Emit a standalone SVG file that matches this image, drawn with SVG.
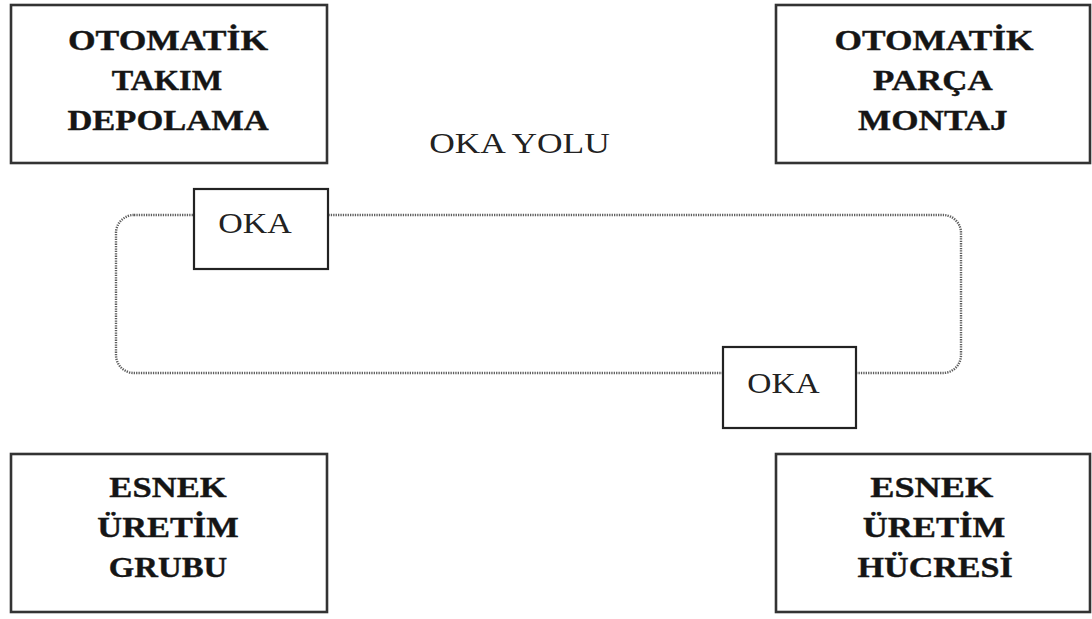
<svg xmlns="http://www.w3.org/2000/svg" width="1092" height="619" viewBox="0 0 1092 619">
  <style>
    .box { fill: #fff; stroke: #333; stroke-width: 2.6; }
    .small { fill: #fff; stroke: #222; stroke-width: 2.2; }
    .big { font-family: "Liberation Serif", "Times New Roman", serif; font-weight: bold; font-size: 30px; fill: #151515; stroke: #151515; stroke-width: 0.4; text-anchor: middle; }
    .lbl { font-family: "Liberation Serif", "Times New Roman", serif; font-size: 30px; fill: #222; text-anchor: middle; }
    .track { fill: none; stroke: #5e5e5e; stroke-width: 2.4; stroke-dasharray: 1.3 1.1; }
  </style>

  <!-- vehicle track loop -->
  <g id="connectors">
    <rect class="track" x="116" y="215" width="845" height="158" rx="18" ry="18"/>
  </g>

  <!-- text is drawn slightly widened: translate to the centre, then scale x -->
  <g id="track-label" transform="translate(519.5 0) scale(1.15 1)">
    <text class="lbl" x="0" y="153" textLength="157" lengthAdjust="spacingAndGlyphs">OKA YOLU</text>
  </g>

  <g id="tool-storage">
    <rect class="box" x="11" y="5" width="316" height="158"/>
    <g transform="translate(168 0) scale(1.15 1)">
      <text class="big" x="0" y="50" textLength="174" lengthAdjust="spacingAndGlyphs">OTOMATİK</text>
      <text class="big" x="-1" y="90" textLength="96" lengthAdjust="spacingAndGlyphs">TAKIM</text>
      <text class="big" x="0" y="130" textLength="175" lengthAdjust="spacingAndGlyphs">DEPOLAMA</text>
    </g>
  </g>

  <g id="part-assembly">
    <rect class="box" x="776" y="5" width="314" height="158"/>
    <g transform="translate(934 0) scale(1.15 1)">
      <text class="big" x="0" y="50" textLength="173" lengthAdjust="spacingAndGlyphs">OTOMATİK</text>
      <text class="big" x="-1" y="90" textLength="104" lengthAdjust="spacingAndGlyphs">PARÇA</text>
      <text class="big" x="-1" y="130" textLength="130" lengthAdjust="spacingAndGlyphs">MONTAJ</text>
    </g>
  </g>

  <g id="flex-group">
    <rect class="box" x="11" y="454" width="316" height="158"/>
    <g transform="translate(168 0) scale(1.15 1)">
      <text class="big" x="0" y="497" textLength="102" lengthAdjust="spacingAndGlyphs">ESNEK</text>
      <text class="big" x="0" y="537" textLength="123" lengthAdjust="spacingAndGlyphs">ÜRETİM</text>
      <text class="big" x="0" y="577" textLength="103" lengthAdjust="spacingAndGlyphs">GRUBU</text>
    </g>
  </g>

  <g id="flex-cell">
    <rect class="box" x="776" y="454" width="314" height="158"/>
    <g transform="translate(934 0) scale(1.15 1)">
      <text class="big" x="-2" y="497" textLength="107" lengthAdjust="spacingAndGlyphs">ESNEK</text>
      <text class="big" x="0" y="537" textLength="124" lengthAdjust="spacingAndGlyphs">ÜRETİM</text>
      <text class="big" x="1" y="577" textLength="135" lengthAdjust="spacingAndGlyphs">HÜCRESİ</text>
    </g>
  </g>

  <g id="vehicle-1">
    <rect class="small" x="194" y="189" width="134" height="80"/>
    <g transform="translate(255 0) scale(1.15 1)">
      <text class="lbl" x="0" y="233" textLength="64" lengthAdjust="spacingAndGlyphs">OKA</text>
    </g>
  </g>

  <g id="vehicle-2">
    <rect class="small" x="723" y="347" width="133" height="81"/>
    <g transform="translate(783.5 0) scale(1.15 1)">
      <text class="lbl" x="0" y="393" textLength="63" lengthAdjust="spacingAndGlyphs">OKA</text>
    </g>
  </g>
</svg>
